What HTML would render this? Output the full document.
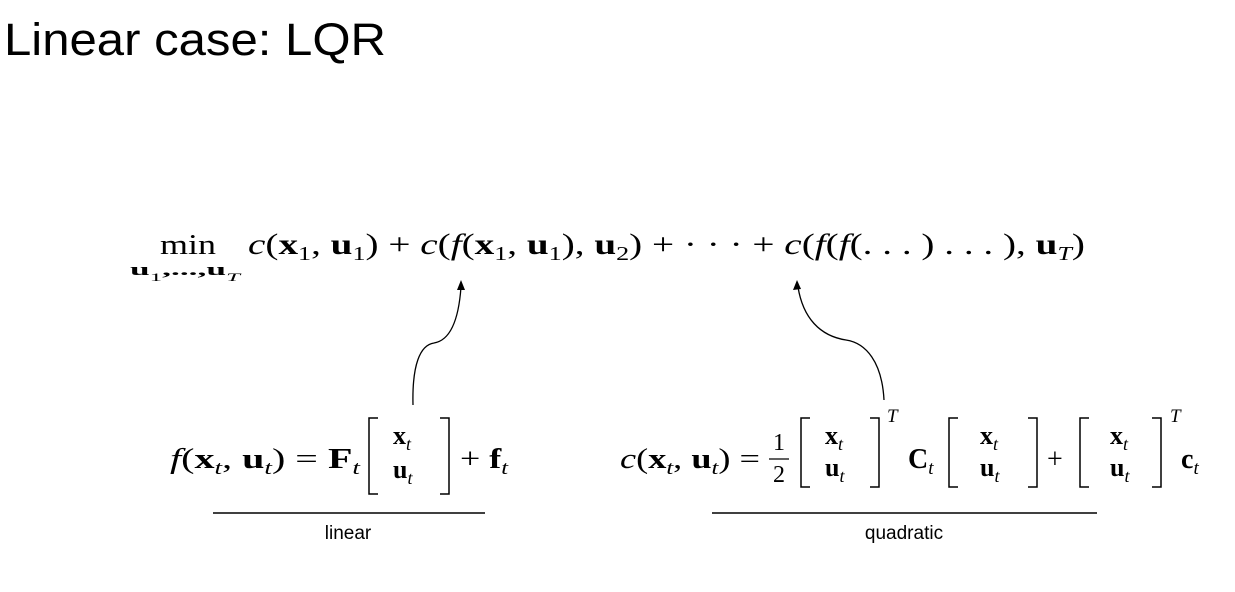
<!DOCTYPE html>
<html><head><meta charset="utf-8"><style>
html,body{margin:0;padding:0;background:#fff;}
svg{display:block;}
.m{font-family:"Liberation Serif","DejaVu Serif",serif;fill:#000;}
.i{font-style:italic;}
.b{font-weight:bold;}
.s{font-family:"Liberation Sans",sans-serif;fill:#000;}
.sub{baseline-shift:-6px;}
.sup{baseline-shift:12px;}
</style></head><body>
<svg width="1235" height="592" viewBox="0 0 1235 592">
<text class="s" x="4" y="55" font-size="45" fill="#111" textLength="382" lengthAdjust="spacingAndGlyphs">Linear case: LQR</text>

<g>
<text class="m" x="160" y="254" font-size="29" textLength="56" lengthAdjust="spacingAndGlyphs">min</text>
<text class="m b" x="130" y="275" font-size="17" textLength="110" lengthAdjust="spacingAndGlyphs">u<tspan font-weight="normal" font-size="12" class="sub">1</tspan>,...,u<tspan font-style="italic" font-weight="normal" font-size="12" class="sub">T</tspan></text>
<text class="m" x="248" y="254" font-size="30" textLength="837" lengthAdjust="spacingAndGlyphs"><tspan class="i">c</tspan>(<tspan class="b">x</tspan><tspan class="sub" font-size="20">1</tspan>, <tspan class="b">u</tspan><tspan class="sub" font-size="20">1</tspan>) + <tspan class="i">c</tspan>(<tspan class="i">f</tspan>(<tspan class="b">x</tspan><tspan class="sub" font-size="20">1</tspan>, <tspan class="b">u</tspan><tspan class="sub" font-size="20">1</tspan>), <tspan class="b">u</tspan><tspan class="sub" font-size="20">2</tspan>) + · · · + <tspan class="i">c</tspan>(<tspan class="i">f</tspan>(<tspan class="i">f</tspan>(. . . ) . . . ), <tspan class="b">u</tspan><tspan class="i sub" font-size="20">T</tspan>)</text>
</g>

<g fill="none" stroke="#000" stroke-width="1.3">
<path d="M413,405 C412,365 420,345 434,343 C452,340 459,315 461,287"/>
<path d="M884,400 C882,362 866,343 846,340 C820,336 803,318 798,287"/>
</g>
<path d="M461,280 L457,290 L465,290 Z" fill="#000"/>
<path d="M797,280 L793,290 L801,289 Z" fill="#000"/>

<g>
<text class="m" x="170" y="468" font-size="28" textLength="190" lengthAdjust="spacingAndGlyphs"><tspan class="i">f</tspan>(<tspan class="b">x</tspan><tspan class="i sub" font-size="19">t</tspan>, <tspan class="b">u</tspan><tspan class="i sub" font-size="19">t</tspan>) = <tspan class="b">F</tspan><tspan class="i sub" font-size="19">t</tspan></text>
<path d="M378,418 H369 V494 H378 M440,418 H449 V494 H440" fill="none" stroke="#000" stroke-width="1.5"/>
<text class="m" x="393" y="444" font-size="26"><tspan class="b">x</tspan><tspan class="i sub" font-size="18">t</tspan></text>
<text class="m" x="393" y="478" font-size="26"><tspan class="b">u</tspan><tspan class="i sub" font-size="18">t</tspan></text>
<text class="m" x="460" y="468" font-size="28" textLength="48" lengthAdjust="spacingAndGlyphs">+ <tspan class="b">f</tspan><tspan class="i sub" font-size="19">t</tspan></text>
</g>

<g>
<text class="m" x="620" y="468" font-size="28" textLength="140" lengthAdjust="spacingAndGlyphs"><tspan class="i">c</tspan>(<tspan class="b">x</tspan><tspan class="i sub" font-size="19">t</tspan>, <tspan class="b">u</tspan><tspan class="i sub" font-size="19">t</tspan>) =</text>
<text class="m" x="773" y="450" font-size="24">1</text>
<line x1="769" y1="459" x2="789" y2="459" stroke="#000" stroke-width="1.3"/>
<text class="m" x="773" y="482" font-size="24">2</text>
<path d="M810,418 H801 V487 H810 M870,418 H879 V487 H870" fill="none" stroke="#000" stroke-width="1.5"/>
<text class="m" x="825" y="444" font-size="26"><tspan class="b">x</tspan><tspan class="i sub" font-size="18">t</tspan></text>
<text class="m" x="825" y="476" font-size="26"><tspan class="b">u</tspan><tspan class="i sub" font-size="18">t</tspan></text>
<text class="m i" x="887" y="422" font-size="19">T</text>
<text class="m" x="908" y="468" font-size="28"><tspan class="b">C</tspan><tspan class="i sub" font-size="19">t</tspan></text>
<path d="M958,418 H949 V487 H958 M1028,418 H1037 V487 H1028" fill="none" stroke="#000" stroke-width="1.5"/>
<text class="m" x="980" y="444" font-size="26"><tspan class="b">x</tspan><tspan class="i sub" font-size="18">t</tspan></text>
<text class="m" x="980" y="476" font-size="26"><tspan class="b">u</tspan><tspan class="i sub" font-size="18">t</tspan></text>
<text class="m" x="1047" y="468" font-size="28">+</text>
<path d="M1089,418 H1080 V487 H1089 M1152,418 H1161 V487 H1152" fill="none" stroke="#000" stroke-width="1.5"/>
<text class="m" x="1110" y="444" font-size="26"><tspan class="b">x</tspan><tspan class="i sub" font-size="18">t</tspan></text>
<text class="m" x="1110" y="476" font-size="26"><tspan class="b">u</tspan><tspan class="i sub" font-size="18">t</tspan></text>
<text class="m i" x="1170" y="422" font-size="19">T</text>
<text class="m" x="1181" y="468" font-size="28"><tspan class="b">c</tspan><tspan class="i sub" font-size="19">t</tspan></text>
</g>

<line x1="213" y1="513" x2="485" y2="513" stroke="#000" stroke-width="1.5"/>
<text class="s" x="348" y="539" font-size="19" text-anchor="middle">linear</text>
<line x1="712" y1="513" x2="1097" y2="513" stroke="#000" stroke-width="1.5"/>
<text class="s" x="904" y="539" font-size="19" text-anchor="middle">quadratic</text>
</svg>
</body></html>
